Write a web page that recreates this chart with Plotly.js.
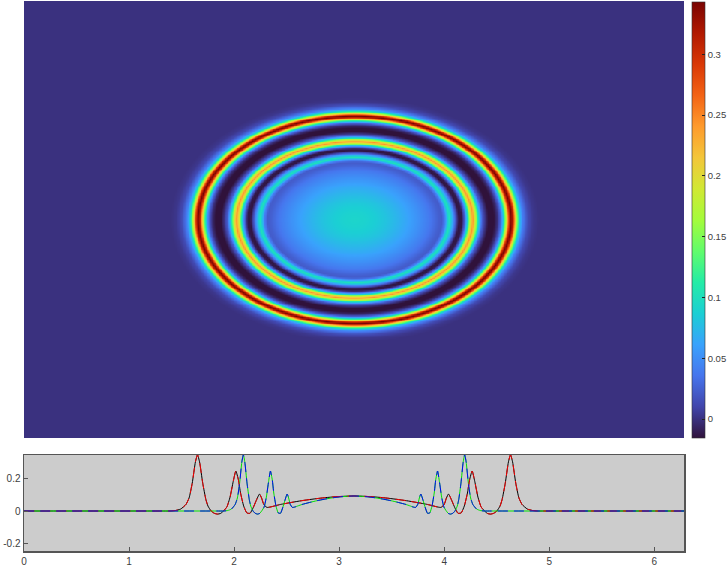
<!DOCTYPE html>
<html><head><meta charset="utf-8">
<script src="https://cdn.plot.ly/plotly-3.0.1.min.js"></script>
<style>html,body{margin:0;padding:0;background:#fff}#c{width:728px;height:569px}</style>
</head><body><div id="c"></div>
<script>
// Radial profile: distance from the centre, value there
const radius = [0,.1,.2,.3,.4,.5,.6,.7,.75,.8,.83,.86,.88,.9,.93,.96,.99,1.02,1.05,1.08,1.1,1.125,1.15,1.18,1.21,1.24,1.27,1.3,1.33,1.36,1.39,1.41,1.44,1.47,1.49,1.51,1.54,1.57,1.6,1.65,1.7,1.75,1.85,4.45];
const level  = [.092,.09,.086,.08,.072,.063,.052,.04,.032,.024,.022,.042,.08,.104,.065,.02,-.014,-.012,.03,.11,.19,.245,.18,.085,.025,.002,-.015,-.019,-.014,0,.03,.07,.17,.30,.345,.30,.17,.08,.04,.012,.003,0,0,0];
const xTicks = [0,1,2,3,4,5,6];
const yTicks = [-0.2,0,0.2];
const barTicks = [0,0.05,0.1,0.15,0.2,0.25,0.3];
const barLabels = ['0','0.05','0.1','0.15','0.2','0.25','0.3'];
const turbo = ['#30123b','#4145ab','#4675ed','#39a2fc','#1bcfd4','#24eca6','#61fc6c','#a4fc3b','#d1e834','#f3c63a','#fe9b2d','#f36315','#d93806','#b11901','#7a0402'];
const zMin = -0.0156, zMax = 0.343;
const W = 728, H = 569;
const PI = Math.PI, SQ2 = Math.SQRT2, yLen = 2*PI/SQ2;

function lookup(r){
  let i = 1;
  while (i < radius.length-1 && radius[i] < r) i++;
  const t = Math.min(1,(r-radius[i-1])/(radius[i]-radius[i-1]));
  return level[i-1] + t*(level[i]-level[i-1]);
}
// 2-D field: the elliptical rings, from the same profile
const gx = [], gy = [], gz = [];
for (let i=0;i<=440;i++) gx.push(2*PI*i/440);
for (let j=0;j<=300;j++) gy.push(yLen*j/300);
for (const y of gy){
  gz.push(gx.map(x => lookup(Math.hypot(x-PI, SQ2*(y-yLen/2)))));
}
// Slices: along x the profile as is, along the other direction compressed by sqrt(2)
function slice(scale, maxR){
  const idx = radius.map((r,i)=>i).filter(i=>radius[i]<=maxR);
  const xs=[], ys=[];
  for (let k=idx.length-1;k>0;k--){ xs.push(PI-radius[idx[k]]/scale); ys.push(level[idx[k]]); }
  for (let k=0;k<idx.length;k++){ xs.push(PI+radius[idx[k]]/scale); ys.push(level[idx[k]]); }
  xs.unshift(0); ys.unshift(0); xs.push(2*PI); ys.push(0);
  return {x:xs,y:ys};
}
const hs = slice(1,1.85), vs = slice(SQ2,1.85);
const line = (s,color,dash)=>({type:'scatter',mode:'lines',x:s.x,y:s.y,xaxis:'x2',yaxis:'y2',hoverinfo:'skip',
  line:{color,width:1,dash,shape:'spline',smoothing:0.5}});
const data = [
 {type:'heatmap',x:gx,y:gy,z:gz,zmin:zMin,zmax:zMax,zsmooth:'best',
  colorscale:turbo.map((c,i)=>[i/(turbo.length-1),c]),
  colorbar:{x:692/W,xanchor:'left',xpad:0,y:1-2/H,yanchor:'top',ypad:0,lenmode:'pixels',len:436,thicknessmode:'pixels',thickness:13,
    tickmode:'array',tickvals:barTicks,ticktext:barLabels,ticks:'inside',ticklen:3,tickcolor:'#222',tickwidth:1,
    outlinecolor:'#333',outlinewidth:0.6,tickfont:{family:'Liberation Sans',size:9.5,color:'#404040'}}},
 line(hs,'#000000','solid'),
 line(vs,'#00e000','solid'),
 line(hs,'#ff0000','10px,6px'),
 line(vs,'#0000ff','10px,6px')
];
const layout = {
 width:W,height:H,margin:{l:0,r:0,t:0,b:0,pad:0,autoexpand:false},paper_bgcolor:'#fff',plot_bgcolor:'#ccc',showlegend:false,
 xaxis:{domain:[24/W,684/W],range:[0,2*PI],visible:false,fixedrange:true},
 yaxis:{domain:[1-438/H,1-1/H],range:[0,yLen],visible:false,fixedrange:true},
 xaxis2:{domain:[24/W,684/W],range:[0,2*PI],anchor:'y2',tickmode:'array',tickvals:xTicks,ticks:'inside',ticklen:4,tickcolor:'#555',
   showgrid:false,zeroline:false,showline:true,linecolor:'#555',linewidth:1.5,mirror:true,
   tickfont:{family:'Liberation Sans',size:10,color:'#404040'}},
 yaxis2:{domain:[1-551/H,1-455/H],range:[-0.245,0.343],anchor:'x2',tickmode:'array',tickvals:yTicks,ticktext:['-0.2','0','0.2'],ticks:'inside',ticklen:4,tickcolor:'#555',
   showgrid:false,zeroline:false,showline:true,linecolor:'#555',linewidth:1.5,mirror:true,
   tickfont:{family:'Liberation Sans',size:10,color:'#404040'}}
};
Plotly.newPlot('c',data,layout,{displayModeBar:false,staticPlot:true});
</script></body></html>
